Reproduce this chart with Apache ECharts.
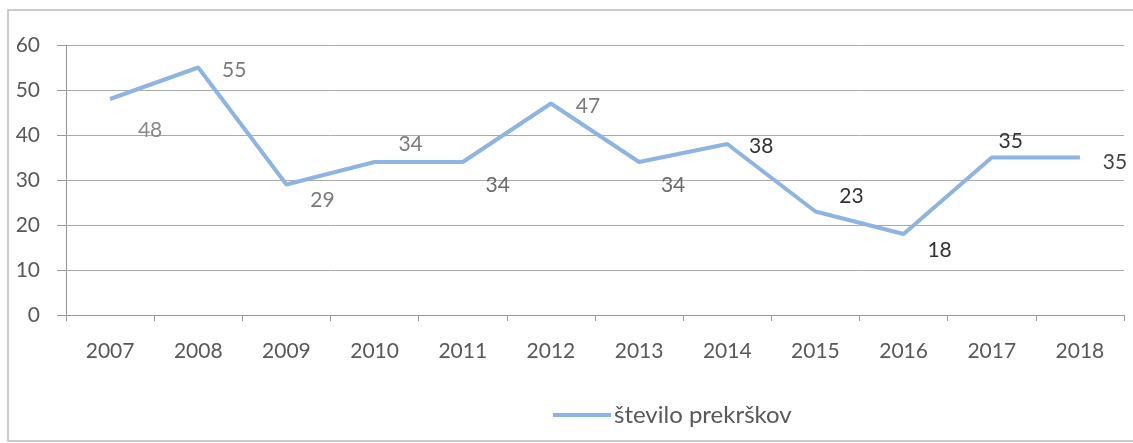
<!DOCTYPE html>
<html>
<head>
<meta charset="utf-8">
<script src="https://cdn.jsdelivr.net/npm/echarts@6/dist/echarts.min.js"></script>
<style>html,body{margin:0;padding:0;background:#fff}#c{width:1133px;height:443px}</style>
</head>
<body>
<div id="c"></div>
<script>
var categories = ['2007','2008','2009','2010','2011','2012','2013','2014','2015','2016','2017','2018'];
var values = [48, 55, 29, 34, 34, 47, 34, 38, 23, 18, 35, 35];
var seriesName = 'število prekrškov';
var yTicks = {min: 0, max: 60, interval: 10};

// label placement relative to the point (style only)
var labelOffsets = [[40,31],[36,3],[36,16],[36,-18],[35,23],[37,3],[34,23],[34,2],[36,-15],[36,16],[19,-16],[35,5]];
var labelColors = ['#8a8a8a','#7a7a7a','#7a7a7a','#7a7a7a','#6a6a6a','#7a7a7a','#6a6a6a','#333','#333','#333','#333','#444'];

var data = values.map(function(v, i){
  return {value: v, label: {offset: labelOffsets[i], color: labelColors[i]}};
});

var FONT = 'Lato, "Open Sans", sans-serif';
var chart = echarts.init(document.getElementById('c'));
chart.setOption({
  animation: false,
  textStyle: {fontFamily: FONT},
  graphic: [{
    type: 'rect', silent: true,
    shape: {x: 8, y: 10, width: 1140, height: 431},
    style: {fill: 'none', stroke: '#bbb', lineWidth: 1.5}
  }],
  grid: {left: 66, right: 9, top: 45, bottom: 128},
  xAxis: {
    type: 'category', data: categories, boundaryGap: true,
    axisLine: {lineStyle: {color: '#999'}},
    axisTick: {show: true, length: 6, lineStyle: {color: '#999'}},
    axisLabel: {color: '#595959', fontSize: 21, margin: 26, fontFamily: FONT}
  },
  yAxis: {
    type: 'value', min: yTicks.min, max: yTicks.max, interval: yTicks.interval,
    axisLine: {show: true, lineStyle: {color: '#999'}},
    axisTick: {show: true, length: 9, lineStyle: {color: '#999'}},
    axisLabel: {color: '#595959', fontSize: 21, margin: 26, fontFamily: FONT},
    splitLine: {lineStyle: {color: '#aaa'}}
  },
  legend: {
    top: 403, left: 553, padding: 0,
    itemWidth: 58, itemHeight: 4, itemGap: 3,
    icon: 'rect',
    textStyle: {color: '#595959', fontSize: 24, fontFamily: FONT, padding: [0,0,0,-2]},
    data: [seriesName]
  },
  series: [{
    name: seriesName, type: 'line', data: data,
    symbol: 'circle', symbolSize: 0.1, showSymbol: true,
    lineStyle: {color: '#8eb4e3', width: 4},
    itemStyle: {color: '#8eb4e3'},
    label: {show: true, position: 'inside', fontSize: 21, fontFamily: FONT}
  }]
});
</script>
</body>
</html>
